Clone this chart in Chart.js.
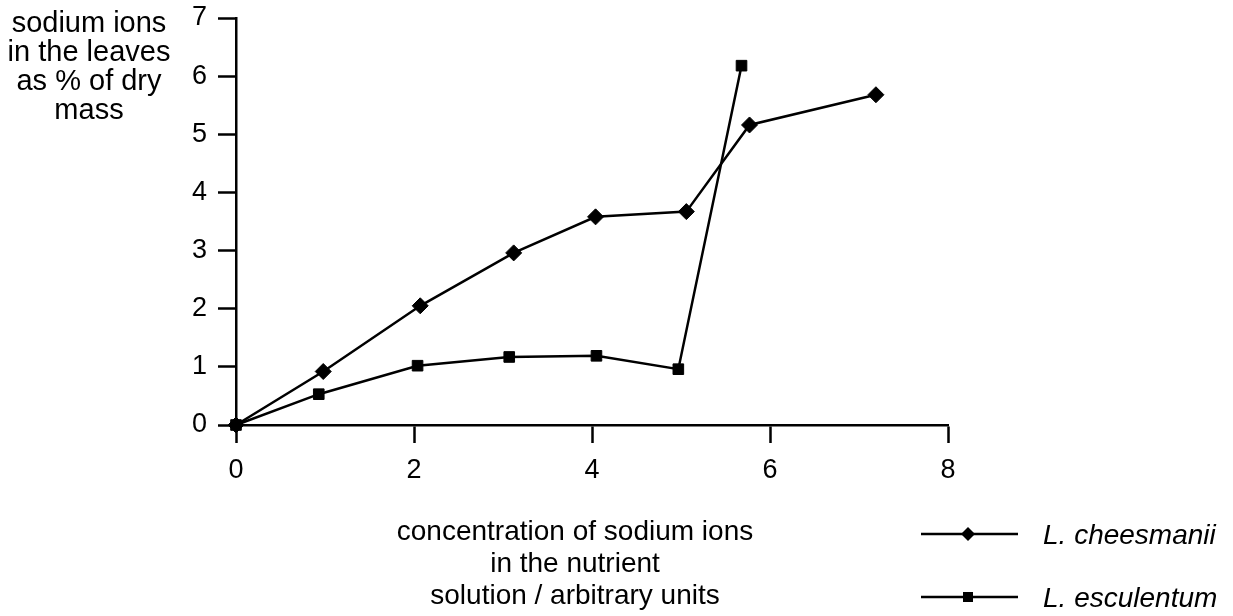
<!DOCTYPE html>
<html>
<head>
<meta charset="utf-8">
<script src="https://cdn.jsdelivr.net/npm/chart.js@4/dist/chart.umd.min.js"></script>
<style>
  html, body { margin: 0; padding: 0; background: #fff; }
  #wrap { width: 1233px; height: 616px; position: relative; }
</style>
</head>
<body>
<div id="wrap"><canvas id="naChart" width="1233" height="616"></canvas></div>
<script>
// values
var cheesmaniiX = [0, 0.98, 2.07, 3.12, 4.04, 5.06, 5.77, 7.19];
var cheesmaniiY = [0, 0.92, 2.05, 2.96, 3.58, 3.67, 5.16, 5.68];
var esculentumX = [0, 0.93, 2.04, 3.07, 4.05, 4.97, 5.68];
var esculentumY = [0, 0.53, 1.02, 1.17, 1.19, 0.96, 6.18];
var seriesNames = ["L. cheesmanii", "L. esculentum"];
var xTicks = [0, 2, 4, 6, 8];
var yTicks = [0, 1, 2, 3, 4, 5, 6, 7];
var yTitle = ["sodium ions", "in the leaves", "as % of dry", "mass"];
var xTitle = ["concentration of sodium ions", "in the nutrient", "solution / arbitrary units"];

function toPoints(xs, ys) {
  return xs.map(function (x, i) {
    return { x: x, y: ys[i] };
  });
}

var FONT = "'Liberation Sans', Arial, Helvetica, sans-serif";

function marker(ctx, style, x, y) {
  ctx.beginPath();
  if (style === "rectRot") {
    ctx.moveTo(x, y - 7);
    ctx.lineTo(x + 7, y);
    ctx.lineTo(x, y + 7);
    ctx.lineTo(x - 7, y);
  } else {
    ctx.rect(x - 5, y - 5, 10, 10);
  }
  ctx.closePath();
  ctx.fill();
}

var textPlugin = {
  id: "textPlugin",
  afterDraw: function (chart) {
    var ctx = chart.ctx;
    ctx.save();
    ctx.fillStyle = "#000";
    ctx.textAlign = "center";
    ctx.textBaseline = "alphabetic";
    ctx.font = "29px " + FONT;
    yTitle.forEach(function (t, i) {
      ctx.fillText(t, 89, 32 + i * 29);
    });
    ctx.font = "28px " + FONT;
    xTitle.forEach(function (t, i) {
      ctx.fillText(t, 575, 540 + i * 32);
    });

    // legend
    var rows = [534, 597];
    chart.data.datasets.forEach(function (ds, i) {
      var y = rows[i];
      ctx.strokeStyle = "#000";
      ctx.lineWidth = 2.5;
      ctx.beginPath();
      ctx.moveTo(921, y);
      ctx.lineTo(1018, y);
      ctx.stroke();
      marker(ctx, ds.pointStyle, 968, y);
      ctx.textAlign = "left";
      ctx.font = "italic 28px " + FONT;
      ctx.fillText(seriesNames[i], 1043, y + 10);
    });
    ctx.restore();
  }
};

var ctx = document.getElementById("naChart").getContext("2d");
var naChart = new Chart(ctx, {
  type: "scatter",
  data: {
    datasets: [
      {
        label: seriesNames[0],
        data: toPoints(cheesmaniiX, cheesmaniiY),
        showLine: true,
        borderColor: "#000",
        backgroundColor: "#000",
        borderWidth: 2.5,
        pointStyle: "rectRot",
        pointRadius: 8,
        pointBorderWidth: 1,
        clip: false
      },
      {
        label: seriesNames[1],
        data: toPoints(esculentumX, esculentumY),
        showLine: true,
        borderColor: "#000",
        backgroundColor: "#000",
        borderWidth: 2.5,
        pointStyle: "rect",
        pointRadius: 7.5,
        pointBorderWidth: 1,
        clip: false
      }
    ]
  },
  options: {
    responsive: false,
    animation: false,
    layout: { padding: { left: 0, right: 285, top: 18, bottom: 0 } },
    plugins: {
      legend: { display: false },
      tooltip: { enabled: false }
    },
    scales: {
      x: {
        type: "linear",
        min: 0,
        max: 8,
        afterFit: function (scale) {
          scale.height = 191;
          scale.paddingLeft = 0;
          scale.paddingRight = 0;
        },
        afterBuildTicks: function (scale) {
          scale.ticks = xTicks.map(function (v) { return { value: v }; });
        },
        border: { color: "#000", width: 2.5 },
        grid: { drawOnChartArea: false, drawTicks: true, tickLength: 18, tickColor: "#000", tickWidth: 2.5 },
        ticks: { color: "#000", padding: 11, font: { family: FONT, size: 27 } }
      },
      y: {
        type: "linear",
        min: 0,
        max: 7,
        afterFit: function (scale) {
          scale.width = 236;
          scale.paddingTop = 0;
          scale.paddingBottom = 0;
        },
        afterBuildTicks: function (scale) {
          scale.ticks = yTicks.map(function (v) { return { value: v }; });
        },
        border: { color: "#000", width: 2.5 },
        grid: { drawOnChartArea: false, drawTicks: true, tickLength: 18, tickColor: "#000", tickWidth: 2.5 },
        ticks: { color: "#000", padding: 11, font: { family: FONT, size: 27 } }
      }
    }
  },
  plugins: [textPlugin]
});
</script>
</body>
</html>
